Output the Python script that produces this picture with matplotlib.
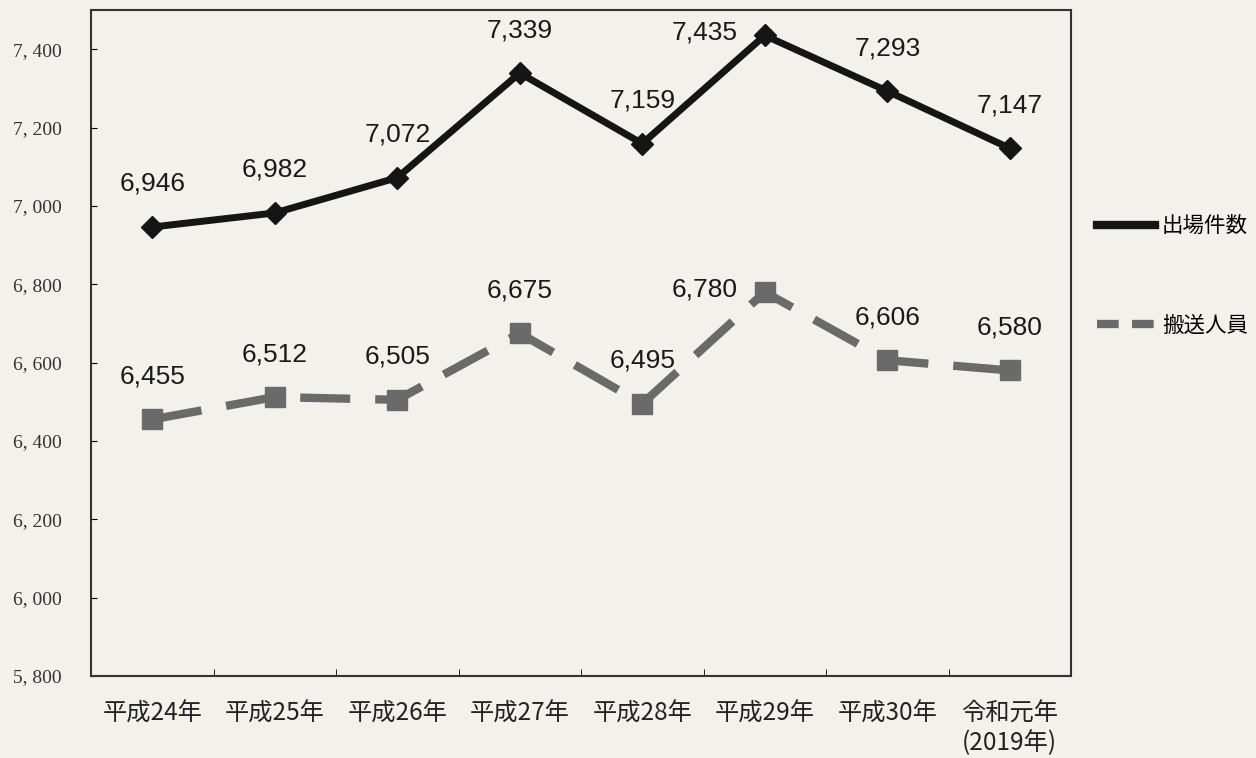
import matplotlib.pyplot as plt
from matplotlib.lines import Line2D
import numpy as np

plt.rcParams['font.family'] = ['Noto Sans CJK JP', 'DejaVu Sans']

years = ['平成24年', '平成25年', '平成26年', '平成27年', '平成28年',
         '平成29年', '平成30年', '令和元年\n(2019年)']
dispatches = [6946, 6982, 7072, 7339, 7159, 7435, 7293, 7147]
transported = [6455, 6512, 6505, 6675, 6495, 6780, 6606, 6580]
yticks = [5800, 6000, 6200, 6400, 6600, 6800, 7000, 7200, 7400]

paper = '#f2f1eb'
dark = '#151515'
grey = '#6a6a6a'

fig = plt.figure(figsize=(12.56, 7.58), dpi=100, facecolor=paper)
ax = fig.add_axes([91 / 1256, 82 / 758, 980 / 1256, 666 / 758])
ax.set_facecolor(paper)

x = np.arange(len(years))
ax.plot(x, dispatches, color=dark, lw=5, marker='D', ms=11, zorder=3)
ax.plot(x, transported, color=grey, lw=6, ls=(0, (6, 3)), marker='s',
        ms=15, zorder=3)

# value labels: above the point, except the peak year which sits to the left
for series in (dispatches, transported):
    for xi, v in zip(x, series):
        off = (-43, 2) if xi == 5 else (0, 31)
        ax.annotate(f'{v:,}', (xi, v), xytext=off, textcoords='offset points',
                    ha='center', va='center', fontsize=19,
                    family='Liberation Sans', color='#1a1a1a')

ax.set_xlim(-0.5, len(years) - 0.5)
ax.set_ylim(5800, 7500)
ax.set_xticks(x)
ax.set_xticklabels(years, fontsize=17.5, color='#222222', linespacing=1.15)
ax.set_xticks(np.arange(0.5, len(years) - 1, 1), minor=True)
ax.tick_params(axis='x', which='major', length=0, pad=18)
ax.tick_params(axis='x', which='minor', direction='in', length=5)
ax.set_yticks(yticks)
ax.set_yticklabels([f'{v:,}'.replace(',', ', ') for v in yticks],
                   fontsize=14, family='Liberation Serif', color='#333333')
ax.tick_params(axis='y', direction='in', length=4, pad=21)
for s in ax.spines.values():
    s.set_linewidth(1.5)
    s.set_color('#333333')

handles = [Line2D([], [], color=dark, lw=6),
           Line2D([], [], color=grey, lw=6, ls=(0, (2.6, 1.6)))]
ax.legend(handles, ['出場件数', '搬送人員'], loc='upper left',
          bbox_to_anchor=(1.018, 0.705), frameon=False,
          labelspacing=3.6, handlelength=2.7, handletextpad=0.3,
          prop={'size': 15.5}, borderaxespad=0)

fig.savefig('out.png', dpi=100, facecolor=paper)
